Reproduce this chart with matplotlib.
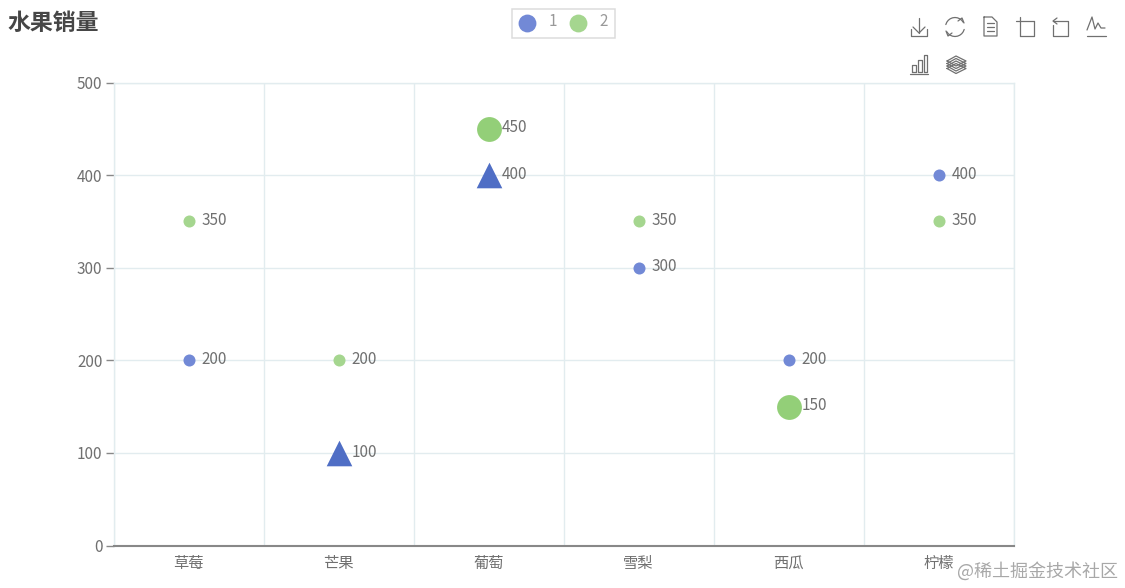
#!/usr/bin/env python

import math
import matplotlib
matplotlib.use('Agg')
import matplotlib.pyplot as plt

plt.rcParams['font.family'] = ['Noto Sans CJK SC', 'DejaVu Sans']

title = '水果销量'
fruits = ['草莓', '芒果', '葡萄', '雪梨', '西瓜', '柠檬']
series_names = ['1', '2']
sales_1 = [200, 100, 400, 300, 200, 400]
sales_2 = [350, 200, 450, 350, 150, 350]
highlight_1 = [1, 2]   # drawn as triangles
highlight_2 = [2, 4]   # drawn as big circles
y_ticks = [0, 100, 200, 300, 400, 500]
watermark = '@稀土掘金技术社区'

blue = '#7289d6'
green = '#a5d68f'
blue_hi = '#4f6ec5'
green_hi = '#93cf78'
grid_col = '#e2ecef'
text_col = '#707070'

W, H = 1125, 588
fig = plt.figure(figsize=(W/100, H/100), dpi=100)
ax = fig.add_axes([113.5/W, 1-545.5/H, 900/W, 463/H])
ax.set_xlim(0, 6)
ax.set_ylim(0, 500)

# grid
ax.set_yticks(y_ticks)
ax.set_xticks(range(7))
ax.grid(True, color=grid_col, lw=1.0)
ax.set_axisbelow(True)
ax.tick_params(axis='x', length=0, labelbottom=False)
ax.tick_params(axis='y', length=6, width=1, color='#888888', labelcolor=text_col, labelsize=11, pad=2)
for s in ['top', 'right', 'left']:
    ax.spines[s].set_color(grid_col)
    ax.spines[s].set_linewidth(1.0)
ax.spines['bottom'].set_color('#888888')
ax.spines['bottom'].set_linewidth(1.5)

for i, f in enumerate(fruits):
    ax.annotate(f, (i+0.5, 0), xytext=(0, -7), textcoords='offset points', ha='center', va='top',
                color=text_col, fontsize=11, annotation_clip=False)

for vals, hi, col, col_hi, mk, size in [(sales_1, highlight_1, blue, blue_hi, '^', 340),
                                        (sales_2, highlight_2, green, green_hi, 'o', 320)]:
    for i, v in enumerate(vals):
        if i in hi:
            ax.scatter(i+0.5, v, s=size, marker=mk, color=col_hi, linewidths=0, zorder=3, clip_on=False)
        else:
            ax.scatter(i+0.5, v, s=75, marker='o', color=col, linewidths=0, zorder=3)
        ax.annotate(str(v), (i+0.5, v), xytext=(9.2, 0.6), textcoords='offset points', ha='left', va='center',
                    color=text_col, fontsize=11, zorder=4)

# overlay in pixel coordinates for title, legend, toolbox
ov = fig.add_axes([0, 0, 1, 1])
ov.set_xlim(0, W)
ov.set_ylim(H, 0)
ov.axis('off')
ov.patch.set_alpha(0)

ov.text(7, 24, title, fontsize=16.5, fontweight='bold', color='#464646', ha='left', va='center')

# legend
ov.add_patch(plt.Rectangle((511.5, 8.5), 103, 29, fill=False, ec='#dcdcdc', lw=1.1))
for x, name, col in [(527, series_names[0], blue), (578, series_names[1], green)]:
    ov.scatter(x, 22.5, s=165, color=col, linewidths=0)
    ov.text(x+26, 21.5, name, fontsize=11, color='#999999', ha='center', va='center')

# toolbox icons
ic = dict(color='#707070', lw=0.9, solid_capstyle='round')
def pl(xs, ys):
    ov.plot(xs, ys, **ic)

# download
pl([919, 919], [18, 33]); pl([913, 919, 925], [27, 33, 27])
pl([911, 911, 927, 927], [29, 36, 36, 29])
# refresh
theta = [i*math.pi/12 for i in range(25)]
pl([955+9.5*math.cos(t) for t in theta[1:11]], [27+9.5*math.sin(t) for t in theta[1:11]])
pl([955+9.5*math.cos(t) for t in theta[13:23]], [27+9.5*math.sin(t) for t in theta[13:23]])
pl([946, 948, 952], [31, 36, 33]); pl([964, 962, 958], [23, 18, 21])
# document
pl([984, 984, 997, 997, 992, 984], [17, 36, 36, 22, 17, 17])
pl([987, 994], [23, 23]); pl([987, 994], [27, 27]); pl([987, 994], [31, 31])
# zoom
pl([1016, 1034], [21, 21]); pl([1020, 1020], [17, 36]); pl([1020, 1034, 1034], [36, 36, 21])
# zoom back
pl([1053, 1068, 1068, 1053, 1053], [21, 21, 36, 36, 25]); pl([1057, 1053, 1057], [18, 21, 24])
# line chart
pl([1087, 1092, 1095, 1098, 1101, 1105], [30, 17, 29, 23, 28, 28]); pl([1087, 1106], [36, 36])
# bar chart
pl([912, 912, 916, 916, 912], [72, 65, 65, 72, 72])
pl([918, 918, 922, 922, 918], [72, 60, 60, 72, 72])
pl([924, 924, 927, 927, 924], [72, 55, 55, 72, 72])
pl([910, 928], [74, 74])
# stack
for dy in [0, 2.5, 5, 7.5]:
    pl([947, 956, 966, 956, 947], [61+dy, 56+dy, 61+dy, 66+dy, 61+dy])

ov.text(1118, 571, watermark, fontsize=13, color='#a8a8a8', ha='right', va='center')

plt.savefig('out.png', dpi=100)
